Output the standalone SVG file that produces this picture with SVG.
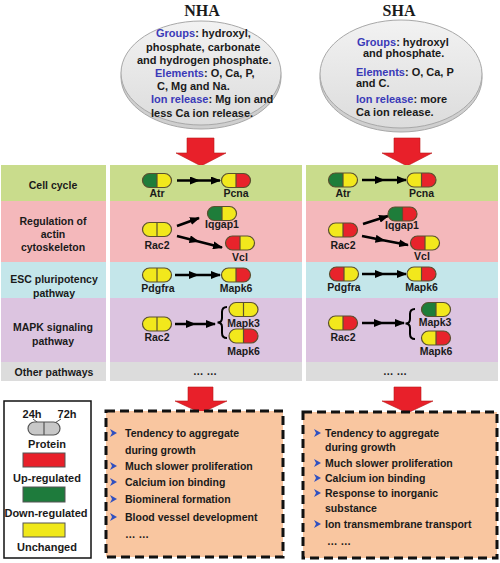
<svg xmlns="http://www.w3.org/2000/svg" xmlns:xlink="http://www.w3.org/1999/xlink" width="500" height="563" viewBox="0 0 500 563">
<style>
text{font-family:"Liberation Sans",Arial,sans-serif;font-weight:bold;fill:#1a1a1a}
.title{font-family:"Liberation Serif","Times New Roman",serif;font-size:16px;text-anchor:middle}
.dk{font-size:11px}
.bl{fill:#3a3ab8}
.rl{font-size:10.5px;text-anchor:middle}
.nl{font-size:10.5px;text-anchor:middle}
.bx{font-size:10.5px}
.lg{font-size:11px;text-anchor:middle}
.arr{fill:none;stroke:#000;stroke-width:2.5}
.brace{fill:none;stroke:#000;stroke-width:2}
.blk{fill:#e8202a;stroke:#b81818;stroke-width:0.6}
.g{fill:#1e7d3a}.y{fill:#f2e81c}.r{fill:#e8232b}.gr{fill:#c8c8c8}
.po{fill:none;stroke:#5a5030;stroke-width:1.2}
.dash{fill:#f9c6a0;stroke:#111;stroke-width:3;stroke-dasharray:9 5}
.bul{fill:#3050c0}
</style>
<defs>
<marker id="ah" markerUnits="userSpaceOnUse" markerWidth="10" markerHeight="8" refX="9" refY="4" orient="auto"><path d="M0,0 L10,4 L0,8 Z" fill="#000"/></marker>
<linearGradient id="disk" x1="0" y1="0" x2="0" y2="1"><stop offset="0" stop-color="#f2f2f2"/><stop offset="1" stop-color="#dcdcdc"/></linearGradient>
<g id="pill-gy"><path class="g" d="M0,-7 H-7.5 A7,7 0 0 0 -7.5,7 H0 Z"/><path class="y" d="M0,-7 H7.5 A7,7 0 0 1 7.5,7 H0 Z"/><rect class="po" x="-14.5" y="-7" width="29" height="14" rx="7"/><path class="po" d="M0,-7 V7"/></g>
<g id="pill-yr"><path class="y" d="M0,-7 H-7.5 A7,7 0 0 0 -7.5,7 H0 Z"/><path class="r" d="M0,-7 H7.5 A7,7 0 0 1 7.5,7 H0 Z"/><rect class="po" x="-14.5" y="-7" width="29" height="14" rx="7"/><path class="po" d="M0,-7 V7"/></g>
<g id="pill-yy"><path class="y" d="M0,-7 H-7.5 A7,7 0 0 0 -7.5,7 H0 Z"/><path class="y" d="M0,-7 H7.5 A7,7 0 0 1 7.5,7 H0 Z"/><rect class="po" x="-14.5" y="-7" width="29" height="14" rx="7"/><path class="po" d="M0,-7 V7"/></g>
<g id="pill-ry"><path class="r" d="M0,-7 H-7.5 A7,7 0 0 0 -7.5,7 H0 Z"/><path class="y" d="M0,-7 H7.5 A7,7 0 0 1 7.5,7 H0 Z"/><rect class="po" x="-14.5" y="-7" width="29" height="14" rx="7"/><path class="po" d="M0,-7 V7"/></g>
<g id="pill-gr"><path class="g" d="M0,-7 H-7.5 A7,7 0 0 0 -7.5,7 H0 Z"/><path class="r" d="M0,-7 H7.5 A7,7 0 0 1 7.5,7 H0 Z"/><rect class="po" x="-14.5" y="-7" width="29" height="14" rx="7"/><path class="po" d="M0,-7 V7"/></g>
<g id="pill-gray"><path class="gr" d="M0,-6.5 H-9.5 A6.5,6.5 0 0 0 -9.5,6.5 H0 Z"/><path class="gr" d="M0,-6.5 H9.5 A6.5,6.5 0 0 1 9.5,6.5 H0 Z"/><rect fill="none" stroke="#555" stroke-width="1.2" x="-16" y="-6.5" width="32" height="13" rx="6.5"/><path fill="none" stroke="#555" stroke-width="1.2" d="M0,-6.5 V6.5"/></g>
</defs>
<rect width="500" height="563" fill="#fff"/>

<!-- titles and disks -->
<g id="nha-head">
<text class="title" x="202" y="16">NHA</text>
<ellipse cx="201" cy="77" rx="80" ry="52" fill="#cfcfcf" stroke="#a8a8a8"/>
<ellipse cx="201" cy="73" rx="80" ry="52" fill="url(#disk)" stroke="#a8a8a8"/>
<text class="dk" x="156" y="37"><tspan class="bl">Groups</tspan>: hydroxyl,</text>
<text class="dk" x="146" y="51">phosphate, carbonate</text>
<text class="dk" x="137" y="64">and hydrogen phosphate.</text>
<text class="dk" x="155" y="77"><tspan class="bl">Elements</tspan>: O, Ca, P,</text>
<text class="dk" x="157" y="90">C, Mg and Na.</text>
<text class="dk" x="151" y="103"><tspan class="bl">Ion release</tspan>: Mg ion and</text>
<text class="dk" x="151" y="117">less Ca ion release.</text>
</g>
<g id="sha-head">
<text class="title" x="399" y="16">SHA</text>
<ellipse cx="401" cy="78" rx="81" ry="54" fill="#cfcfcf" stroke="#a8a8a8"/>
<ellipse cx="401" cy="74" rx="81" ry="54" fill="url(#disk)" stroke="#a8a8a8"/>
<text class="dk" x="357" y="46"><tspan class="bl">Groups</tspan>: hydroxyl</text>
<text class="dk" x="363" y="57">and phosphate.</text>
<text class="dk" x="356" y="76"><tspan class="bl">Elements</tspan>: O, Ca, P</text>
<text class="dk" x="356" y="87">and C.</text>
<text class="dk" x="356" y="103"><tspan class="bl">Ion release</tspan>: more</text>
<text class="dk" x="356" y="116">Ca ion release.</text>
</g>

<!-- block arrows -->
<g id="block-arrows">
<path class="blk" d="M187,138 H214 V153 H226 L201,166 L176,153 H187 Z"/>
<path class="blk" d="M394,138 H420 V153 H432 L407,166 L382,153 H394 Z"/>
<path class="blk" d="M188,387 H213 V401 H227 L201,413 L175,401 H188 Z"/>
<path class="blk" d="M394,387 H421 V401 H433 L407.5,413 L382,401 H394 Z"/>
</g>

<!-- table rows -->
<g id="table">
<rect x="1" y="165" width="105" height="36" fill="#c9dc8c"/>
<rect x="110" y="165" width="192" height="36" fill="#c9dc8c"/>
<rect x="306" y="165" width="192" height="36" fill="#c9dc8c"/>
<rect x="1" y="201" width="105" height="61" fill="#f4b8bb"/>
<rect x="110" y="201" width="192" height="61" fill="#f4b8bb"/>
<rect x="306" y="201" width="192" height="61" fill="#f4b8bb"/>
<rect x="1" y="262" width="105" height="36" fill="#c4e6ea"/>
<rect x="110" y="262" width="192" height="36" fill="#c4e6ea"/>
<rect x="306" y="262" width="192" height="36" fill="#c4e6ea"/>
<rect x="1" y="298" width="105" height="64" fill="#dcc4e0"/>
<rect x="110" y="298" width="192" height="64" fill="#dcc4e0"/>
<rect x="306" y="298" width="192" height="64" fill="#dcc4e0"/>
<rect x="1" y="362" width="105" height="19" fill="#dcdcdc"/>
<rect x="110" y="362" width="192" height="19" fill="#dcdcdc"/>
<rect x="306" y="362" width="192" height="19" fill="#dcdcdc"/>
<text class="rl" x="53" y="189">Cell cycle</text>
<text class="rl" x="53" y="225">Regulation of</text>
<text class="rl" x="53" y="238">actin</text>
<text class="rl" x="53" y="251">cytoskeleton</text>
<text class="rl" x="54" y="283">ESC pluripotency</text>
<text class="rl" x="54" y="297">pathway</text>
<text class="rl" x="53" y="331">MAPK signaling</text>
<text class="rl" x="53" y="345">pathway</text>
<text class="rl" x="54" y="376">Other pathways</text>
<text class="rl" x="205" y="375">… …</text>
<text class="rl" x="395" y="375">… …</text>
</g>

<!-- connectors -->
<g id="connectors">
<path class="arr" marker-mid="url(#ah)" marker-end="url(#ah)" d="M177,180.5 L199,180.5 L220,180.5"/>
<path class="arr" marker-end="url(#ah)" d="M177,226 L199,218"/>
<path class="arr" marker-mid="url(#ah)" marker-end="url(#ah)" d="M177,236 L198.5,241.5 L222,247.5"/>
<path class="arr" marker-mid="url(#ah)" marker-end="url(#ah)" d="M175,275 L198,275 L220,275"/>
<path class="arr" marker-mid="url(#ah)" marker-end="url(#ah)" d="M175,324 L195,324 L215,324"/>
<path class="brace" d="M227,307 Q222,307 222,312 L222,318 Q222,322.5 217.5,322.5 Q222,322.5 222,327 L222,333 Q222,338 227,338"/>
<path class="arr" marker-mid="url(#ah)" marker-end="url(#ah)" d="M362,180 L384,180 L406,180"/>
<path class="arr" marker-end="url(#ah)" d="M363,224 L388,216"/>
<path class="arr" marker-mid="url(#ah)" marker-end="url(#ah)" d="M362,236 L384.5,240.5 L408,245"/>
<path class="arr" marker-mid="url(#ah)" marker-end="url(#ah)" d="M362,274 L384,274 L406,274"/>
<path class="arr" marker-mid="url(#ah)" marker-end="url(#ah)" d="M362,323 L383,323 L404,323"/>
<path class="brace" d="M415,309 Q410,309 410,314 L410,319 Q410,323.5 405.5,323.5 Q410,323.5 410,328 L410,334 Q410,339 415,339"/>
</g>

<!-- NHA nodes -->
<g id="nha-atr"><use xlink:href="#pill-gy" href="#pill-gy" x="157" y="180.5"/><text class="nl" x="157" y="197">Atr</text></g>
<g id="nha-pcna"><use xlink:href="#pill-yr" href="#pill-yr" x="236" y="180.5"/><text class="nl" x="236" y="197">Pcna</text></g>
<g id="nha-rac2a"><use xlink:href="#pill-yy" href="#pill-yy" x="157" y="229.5"/><text class="nl" x="157" y="249">Rac2</text></g>
<g id="nha-iqgap1"><use xlink:href="#pill-gy" href="#pill-gy" x="222" y="213.5"/><text class="nl" x="222" y="228">Iqgap1</text></g>
<g id="nha-vcl"><use xlink:href="#pill-ry" href="#pill-ry" x="240" y="243"/><text class="nl" x="240" y="261">Vcl</text></g>
<g id="nha-pdgfra"><use xlink:href="#pill-yy" href="#pill-yy" x="157" y="275"/><text class="nl" x="158" y="292">Pdgfra</text></g>
<g id="nha-mapk6a"><use xlink:href="#pill-yr" href="#pill-yr" x="236" y="275"/><text class="nl" x="236" y="292">Mapk6</text></g>
<g id="nha-rac2b"><use xlink:href="#pill-yy" href="#pill-yy" x="157" y="324"/><text class="nl" x="157" y="341">Rac2</text></g>
<g id="nha-mapk3"><use xlink:href="#pill-yy" href="#pill-yy" x="243.5" y="309.5"/><text class="nl" x="243.5" y="327">Mapk3</text></g>
<g id="nha-mapk6b"><use xlink:href="#pill-yr" href="#pill-yr" x="243.5" y="336"/><text class="nl" x="243.5" y="355">Mapk6</text></g>

<!-- SHA nodes -->
<g id="sha-atr"><use xlink:href="#pill-gy" href="#pill-gy" x="343" y="180"/><text class="nl" x="343" y="197">Atr</text></g>
<g id="sha-pcna"><use xlink:href="#pill-yr" href="#pill-yr" x="421.5" y="180"/><text class="nl" x="421.5" y="197">Pcna</text></g>
<g id="sha-rac2a"><use xlink:href="#pill-yr" href="#pill-yr" x="343" y="230"/><text class="nl" x="343" y="249">Rac2</text></g>
<g id="sha-iqgap1"><use xlink:href="#pill-gr" href="#pill-gr" x="402.5" y="214"/><text class="nl" x="402" y="229">Iqgap1</text></g>
<g id="sha-vcl"><use xlink:href="#pill-ry" href="#pill-ry" x="425" y="243"/><text class="nl" x="422" y="260">Vcl</text></g>
<g id="sha-pdgfra"><use xlink:href="#pill-ry" href="#pill-ry" x="344" y="274"/><text class="nl" x="344" y="291">Pdgfra</text></g>
<g id="sha-mapk6a"><use xlink:href="#pill-yr" href="#pill-yr" x="421.5" y="274"/><text class="nl" x="421.5" y="291">Mapk6</text></g>
<g id="sha-rac2b"><use xlink:href="#pill-yr" href="#pill-yr" x="343" y="323"/><text class="nl" x="343" y="341">Rac2</text></g>
<g id="sha-mapk3"><use xlink:href="#pill-gy" href="#pill-gy" x="436" y="309.5"/><text class="nl" x="435" y="326">Mapk3</text></g>
<g id="sha-mapk6b"><use xlink:href="#pill-yr" href="#pill-yr" x="436" y="338"/><text class="nl" x="436" y="355">Mapk6</text></g>

<!-- legend -->
<g id="legend">
<rect x="4" y="401" width="87" height="157" fill="#fff" stroke="#111" stroke-width="1.5"/>
<text class="lg" x="32" y="418">24h</text>
<text class="lg" x="67" y="418">72h</text>
<path d="M33,419 L41,425 M61,419 L50,426" stroke="#555" stroke-width="1" fill="none"/>
<use xlink:href="#pill-gray" href="#pill-gray" x="44" y="428.5"/>
<text class="lg" x="47" y="448">Protein</text>
<rect x="23" y="453" width="42" height="14" fill="#e8202a" stroke="#555" stroke-width="1"/>
<text class="lg" x="47" y="482">Up-regulated</text>
<rect x="23" y="487" width="42" height="15" fill="#1e7b3c" stroke="#555" stroke-width="1"/>
<text class="lg" x="46" y="517">Down-regulated</text>
<rect x="23" y="523" width="42" height="14" fill="#f0e81a" stroke="#555" stroke-width="1"/>
<text class="lg" x="47" y="551">Unchanged</text>
</g>

<!-- outcome boxes -->
<g id="nha-box">
<rect class="dash" x="106" y="411" width="177" height="146"/>
<path class="bul" d="M110,429 L117,433 L110,437 L112,433 Z"/>
<text class="bx" x="125" y="437">Tendency to aggregate</text>
<text class="bx" x="125" y="454">during growth</text>
<path class="bul" d="M110,462 L117,466 L110,470 L112,466 Z"/>
<text class="bx" x="125" y="470">Much slower proliferation</text>
<path class="bul" d="M110,478 L117,482 L110,486 L112,482 Z"/>
<text class="bx" x="125" y="486">Calcium ion binding</text>
<path class="bul" d="M110,495 L117,499 L110,503 L112,499 Z"/>
<text class="bx" x="125" y="503">Biomineral formation</text>
<path class="bul" d="M110,513 L117,517 L110,521 L112,517 Z"/>
<text class="bx" x="125" y="521">Blood vessel development</text>
<text class="bx" x="125" y="538">… …</text>
</g>
<g id="sha-box">
<rect class="dash" x="303" y="412" width="194" height="146"/>
<path class="bul" d="M314,429 L321,433 L314,437 L316,433 Z"/>
<text class="bx" x="325" y="437">Tendency to aggregate</text>
<text class="bx" x="325" y="451">during growth</text>
<path class="bul" d="M314,459 L321,463 L314,467 L316,463 Z"/>
<text class="bx" x="325" y="467">Much slower proliferation</text>
<path class="bul" d="M314,474 L321,478 L314,482 L316,478 Z"/>
<text class="bx" x="325" y="482">Calcium ion binding</text>
<path class="bul" d="M314,489 L321,493 L314,497 L316,493 Z"/>
<text class="bx" x="325" y="497">Response to inorganic</text>
<text class="bx" x="325" y="512">substance</text>
<path class="bul" d="M314,520 L321,524 L314,528 L316,524 Z"/>
<text class="bx" x="325" y="528">Ion transmembrane transport</text>
<text class="bx" x="327" y="545">… …</text>
</g>
</svg>
